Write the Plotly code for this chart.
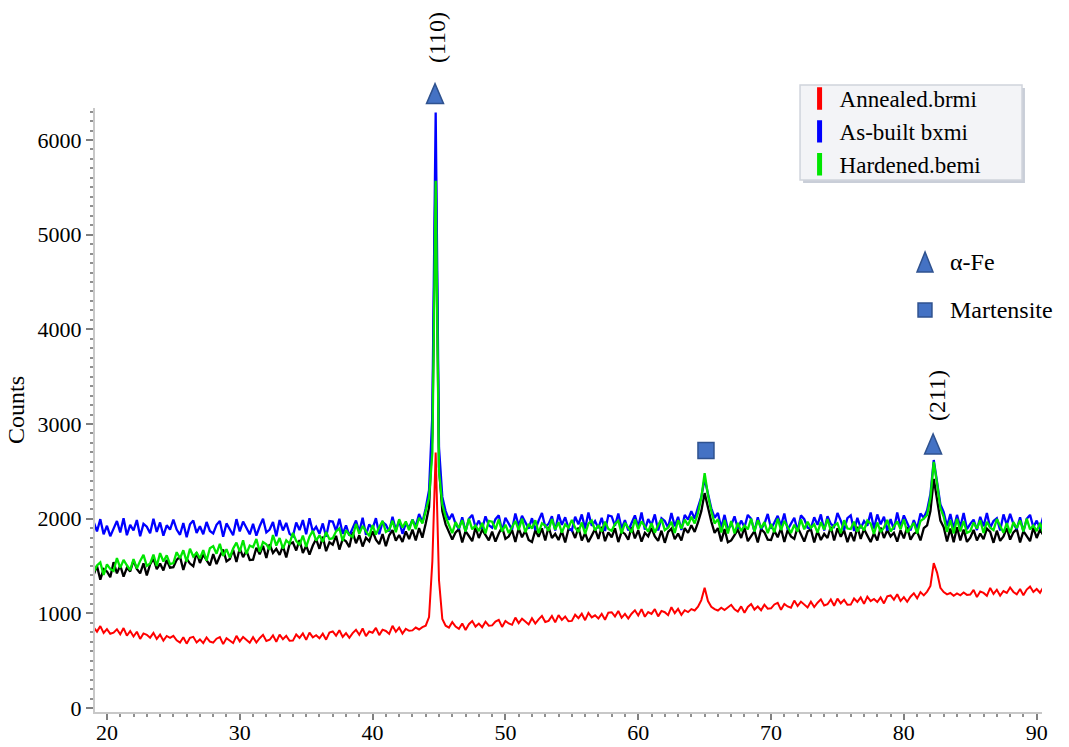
import numpy as np
import plotly.graph_objects as go

# ---- XRD scan parameters (two-theta, degrees) ----
scan_start = 19.0
scan_step = 0.25

# ---- Counts, 12 values (3 degrees) per row ----
annealed = [
    852, 807, 865, 793, 834, 785, 796, 832, 778, 845, 764, 814,          # 19
    756, 806, 730, 788, 774, 743, 793, 730, 775, 712, 761, 741,          # 22
    763, 716, 691, 747, 680, 741, 752, 693, 725, 686, 745, 702,          # 25
    691, 732, 750, 675, 738, 711, 686, 762, 704, 751, 720, 690,          # 28
    748, 692, 737, 773, 708, 721, 767, 700, 776, 726, 762, 711,          # 31
    712, 777, 741, 788, 720, 797, 747, 769, 736, 785, 722, 797,          # 34
    809, 764, 822, 750, 791, 742, 791, 827, 773, 840, 759, 809,          # 37
    796, 846, 770, 828, 814, 783, 868, 805, 850, 787, 836, 816,          # 40
    820, 850, 830, 855, 870, 960, 1550, 2700, 1350, 940, 870, 850,       # 43
    908, 861, 836, 892, 825, 886, 919, 860, 892, 853, 912, 869,          # 46
    873, 914, 932, 857, 920, 893, 879, 955, 897, 944, 913, 883,          # 49
    948, 892, 937, 973, 908, 921, 972, 905, 981, 931, 967, 916,          # 52
    920, 985, 949, 996, 928, 1005, 957, 979, 946, 995, 932, 1007,        # 55
    1012, 967, 1025, 953, 994, 945, 996, 1032, 978, 1045, 964, 1014,     # 58
    994, 1044, 968, 1026, 1012, 981, 1065, 1002, 1047, 984, 1033, 1013,  # 61
    1045, 1030, 1070, 1140, 1270, 1130, 1070, 1045, 1030, 1060, 1035, 1065,  # 64
    1090, 1043, 1018, 1074, 1007, 1068, 1099, 1040, 1072, 1033, 1092, 1049,  # 67
    1053, 1094, 1112, 1037, 1100, 1073, 1059, 1135, 1077, 1124, 1093, 1063,  # 70
    1123, 1067, 1112, 1148, 1083, 1096, 1147, 1080, 1156, 1106, 1142, 1091,  # 73
    1092, 1157, 1121, 1168, 1100, 1177, 1130, 1152, 1119, 1168, 1105, 1180,  # 76
    1189, 1144, 1202, 1130, 1171, 1122, 1176, 1212, 1158, 1225, 1190, 1230,  # 79
    1290, 1530, 1430, 1270, 1225, 1200, 1215, 1185, 1210, 1190, 1220, 1195,  # 82
    1198, 1248, 1172, 1230, 1216, 1185, 1268, 1205, 1250, 1187, 1236, 1216,  # 85
    1273, 1226, 1201, 1257, 1190, 1251, 1284, 1225, 1257, 1218, 1277,        # 88
]

as_built = [
    1965, 1865, 1995, 1835, 1925, 1815, 1895, 1975, 1855, 2005, 1825, 1935,  # 19
    1875, 1985, 1815, 1945, 1915, 1845, 2000, 1860, 1960, 1820, 1930, 1885,  # 22
    1990, 1885, 1830, 1955, 1805, 1940, 1980, 1850, 1920, 1835, 1965, 1870,  # 25
    1845, 1935, 1975, 1810, 1950, 1890, 1825, 1995, 1865, 1970, 1900, 1835,  # 28
    1945, 1820, 1920, 2000, 1855, 1885, 1965, 1815, 1985, 1875, 1955, 1840,  # 31
    1815, 1960, 1880, 1985, 1835, 2005, 1865, 1915, 1840, 1950, 1810, 1975,  # 34
    1970, 1870, 2000, 1840, 1930, 1820, 1900, 1980, 1860, 2010, 1830, 1940,  # 37
    1895, 2005, 1835, 1965, 1935, 1865, 2020, 1880, 1980, 1840, 1950, 1905,  # 40
    1990, 1920, 2050, 1960, 2110, 2300, 3100, 6290, 2750, 2230, 2080, 1990,  # 43
    2050, 1945, 1890, 2015, 1865, 2000, 2040, 1910, 1980, 1895, 2025, 1930,  # 46
    1905, 1995, 2035, 1870, 2010, 1950, 1885, 2055, 1925, 2030, 1960, 1895,  # 49
    2005, 1880, 1980, 2060, 1915, 1945, 2025, 1875, 2045, 1935, 2015, 1900,  # 52
    1875, 2020, 1940, 2045, 1895, 2065, 1925, 1975, 1900, 2010, 1870, 2035,  # 55
    2025, 1925, 2055, 1895, 1985, 1875, 1955, 2035, 1915, 2065, 1885, 1995,  # 58
    1935, 2045, 1875, 2005, 1975, 1905, 2060, 1920, 2020, 1880, 2040, 1990,  # 61
    2080, 2000, 2120, 2230, 2420, 2260, 2110, 2010, 2060, 1905, 2040, 1890,  # 64
    1930, 2025, 1895, 1980, 1910, 2040, 2000, 1865, 2015, 1890, 1945, 2050,  # 67
    1895, 1960, 2030, 1925, 2055, 1885, 1950, 2010, 1870, 2035, 1995, 1905,  # 70
    1900, 2015, 1935, 2045, 1875, 2025, 1945, 1915, 2060, 1980, 1880, 2005,  # 73
    2035, 1870, 2010, 1900, 1975, 1925, 2065, 1895, 2045, 1940, 2020, 1875,  # 76
    1995, 1885, 2065, 1915, 2035, 1955, 1875, 1985, 1895, 2055, 2010, 2090,  # 79
    2260, 2620, 2400, 2150, 2070, 1920, 2050, 1895, 2040, 1910, 2060, 1890,  # 82
    1945, 1990, 1880, 2020, 1920, 2060, 1905, 1975, 2005, 1875, 2045, 1935,  # 85
    2050, 1945, 1890, 2015, 1865, 2000, 2040, 1910, 1980, 1895, 2025,        # 88
]

reference_black = [
    1407, 1501, 1356, 1467, 1442, 1382, 1541, 1422, 1507, 1388, 1481, 1443,  # 19
    1558, 1469, 1422, 1529, 1401, 1516, 1577, 1466, 1526, 1453, 1564, 1483,  # 22
    1488, 1565, 1599, 1458, 1577, 1526, 1498, 1643, 1532, 1621, 1562, 1506,  # 25
    1626, 1520, 1605, 1673, 1549, 1575, 1670, 1542, 1687, 1593, 1662, 1564,  # 28
    1568, 1692, 1624, 1713, 1585, 1730, 1638, 1681, 1617, 1710, 1591, 1732,  # 31
    1749, 1664, 1775, 1638, 1715, 1621, 1716, 1785, 1682, 1810, 1657, 1751,  # 34
    1725, 1819, 1674, 1785, 1760, 1700, 1859, 1740, 1825, 1706, 1799, 1761,  # 37
    1867, 1778, 1731, 1838, 1710, 1825, 1879, 1768, 1828, 1755, 1866, 1785,  # 40
    1885, 1770, 1900, 1800, 1950, 2120, 2900, 5800, 2550, 2080, 1940, 1850,  # 43
    1779, 1856, 1890, 1749, 1868, 1817, 1762, 1907, 1796, 1885, 1826, 1770,  # 46
    1864, 1758, 1843, 1911, 1787, 1813, 1881, 1753, 1898, 1804, 1873, 1775,  # 49
    1753, 1877, 1809, 1898, 1770, 1915, 1796, 1839, 1775, 1868, 1749, 1890,  # 52
    1881, 1796, 1907, 1770, 1847, 1753, 1821, 1890, 1787, 1915, 1762, 1856,  # 55
    1804, 1898, 1753, 1864, 1839, 1779, 1911, 1792, 1877, 1758, 1851, 1813,  # 58
    1902, 1813, 1766, 1873, 1745, 1860, 1894, 1783, 1843, 1770, 1900, 1850,  # 61
    1930, 1860, 1960, 2080, 2270, 2110, 1970, 1850, 1900, 1760, 1890, 1750,  # 64
    1770, 1826, 1885, 1796, 1907, 1762, 1817, 1868, 1749, 1890, 1856, 1779,  # 67
    1775, 1873, 1804, 1898, 1753, 1881, 1813, 1787, 1911, 1843, 1758, 1864,  # 70
    1890, 1749, 1868, 1775, 1839, 1796, 1915, 1770, 1898, 1809, 1877, 1753,  # 73
    1856, 1762, 1915, 1787, 1890, 1821, 1753, 1847, 1770, 1907, 1796, 1881,  # 76
    1813, 1851, 1758, 1877, 1792, 1911, 1779, 1839, 1864, 1770, 1900, 1930,  # 79
    2080, 2420, 2220, 1980, 1910, 1760, 1895, 1750, 1910, 1770, 1885, 1755,  # 82
    1800, 1881, 1770, 1843, 1783, 1894, 1860, 1745, 1873, 1766, 1813, 1902,  # 85
    1779, 1856, 1890, 1749, 1868, 1817, 1762, 1907, 1796, 1885, 1826,        # 88
]

hardened = [
    1434, 1506, 1538, 1406, 1518, 1470, 1448, 1584, 1480, 1564, 1508, 1456,  # 19
    1574, 1474, 1554, 1618, 1502, 1526, 1620, 1500, 1636, 1548, 1612, 1520,  # 22
    1530, 1646, 1582, 1666, 1546, 1682, 1600, 1640, 1580, 1668, 1556, 1688,  # 25
    1710, 1630, 1734, 1606, 1678, 1590, 1684, 1748, 1652, 1772, 1628, 1716,  # 28
    1698, 1786, 1650, 1754, 1730, 1674, 1828, 1716, 1796, 1684, 1772, 1736,  # 31
    1850, 1766, 1722, 1822, 1702, 1810, 1872, 1768, 1824, 1756, 1860, 1784,  # 34
    1794, 1866, 1898, 1766, 1878, 1830, 1808, 1944, 1840, 1924, 1868, 1816,  # 37
    1932, 1832, 1912, 1976, 1860, 1884, 1978, 1858, 1994, 1906, 1970, 1878,  # 40
    1990, 1890, 2010, 1950, 2080, 2220, 2700, 5570, 2500, 2150, 2020, 1940,  # 43
    1848, 1964, 1900, 1984, 1864, 2000, 1888, 1928, 1868, 1956, 1844, 1976,  # 46
    1968, 1888, 1992, 1864, 1936, 1848, 1912, 1976, 1880, 2000, 1856, 1944,  # 49
    1896, 1984, 1848, 1952, 1928, 1872, 1996, 1884, 1964, 1852, 1940, 1904,  # 52
    1988, 1904, 1860, 1960, 1840, 1948, 1980, 1876, 1932, 1864, 1968, 1892,  # 55
    1872, 1944, 1976, 1844, 1956, 1908, 1856, 1992, 1888, 1972, 1916, 1864,  # 58
    1952, 1852, 1932, 1996, 1880, 1904, 1968, 1848, 1984, 1896, 1990, 1930,  # 61
    2020, 1950, 2060, 2220, 2480, 2250, 2080, 1950, 1995, 1855, 1985, 1845,  # 64
    1976, 1844, 1956, 1868, 1928, 1888, 2000, 1864, 1984, 1900, 1964, 1848,  # 67
    1944, 1856, 2000, 1880, 1976, 1912, 1848, 1936, 1864, 1992, 1888, 1968,  # 70
    1904, 1940, 1852, 1964, 1884, 1996, 1872, 1928, 1952, 1848, 1984, 1896,  # 73
    1892, 1968, 1864, 1932, 1876, 1980, 1948, 1840, 1960, 1860, 1904, 1988,  # 76
    1864, 1916, 1972, 1888, 1992, 1856, 1908, 1956, 1844, 1976, 2000, 2040,  # 79
    2220, 2600, 2370, 2110, 2020, 1860, 1985, 1845, 2000, 1865, 1975, 1850,  # 82
    1868, 1960, 1896, 1984, 1848, 1968, 1904, 1880, 1996, 1932, 1852, 1952,  # 85
    1848, 1964, 1900, 1984, 1864, 2000, 1888, 1928, 1868, 1956, 1844,        # 88
]

series_names = ["Annealed.brmi", "As-built bxmi", "Hardened.bemi"]
series_colors = ["#ff0000", "#0000ff", "#00e600"]

# phase markers (peak position, marker height in counts)
alpha_fe_x = [44.7, 82.2]
alpha_fe_y = [6490, 2790]
martensite_x = [65.1]
martensite_y = [2720]
hkl_labels = ["(110)", "(211)"]
hkl_x = [44.8, 82.45]
hkl_y = [7080, 3300]

lens = [len(annealed), len(as_built), len(reference_black), len(hardened)]
assert len(set(lens)) == 1, lens
n = len(annealed)
two_theta = np.round(scan_start + scan_step * np.arange(n), 2)

SERIF = "Liberation Serif"
MARK_FILL = "#4472c4"
MARK_EDGE = "#2f528f"

X_RANGE = [19.1, 90.4]
Y_RANGE = [-42, 6338]
PLOT_W, PLOT_H = 947, 604
deg_per_px = (X_RANGE[1] - X_RANGE[0]) / PLOT_W


def ypaper(c):
    return (c - Y_RANGE[0]) / (Y_RANGE[1] - Y_RANGE[0])


fig = go.Figure()

for y, c, w in [(annealed, series_colors[0], 2.0), (reference_black, "#000000", 2.3),
                (as_built, series_colors[1], 2.3), (hardened, series_colors[2], 2.3)]:
    fig.add_trace(go.Scatter(x=two_theta, y=y, mode="lines",
                             line=dict(color=c, width=w),
                             showlegend=False, hoverinfo="skip"))

for name, c in zip(series_names, series_colors):
    fig.add_trace(go.Scatter(x=[None], y=[None], mode="markers", name=name,
                             marker=dict(symbol="line-ns", size=16,
                                         line=dict(width=5, color=c))))

shapes = []
# legend frame (shadow + box) drawn behind the transparent legend
shapes.append(dict(type="rect", xref="paper", yref="paper", layer="above",
                   x0=0.7477, x1=0.9820, y0=0.8758, y1=1.0331,
                   fillcolor="#c9ced8", line=dict(width=0)))
shapes.append(dict(type="rect", xref="paper", yref="paper", layer="above",
                   x0=0.7445, x1=0.9789, y0=0.8808, y1=1.0381,
                   fillcolor="#f3f4f7", line=dict(color="#d0d4dc", width=1.5)))

# triangles (alpha-Fe) above peaks
hw = 8.5 * deg_per_px
hh = 10 / PLOT_H
for xx, cc in zip(alpha_fe_x, alpha_fe_y):
    yc = ypaper(cc)
    shapes.append(dict(type="path", xref="x", yref="paper",
                       path=f"M {xx-hw} {yc-hh} L {xx+hw} {yc-hh} L {xx} {yc+hh} Z",
                       fillcolor=MARK_FILL, line=dict(color=MARK_EDGE, width=1.5)))
# squares (martensite)
sw = 8 * deg_per_px
sh = 8 / PLOT_H
for xx, cc in zip(martensite_x, martensite_y):
    yc = ypaper(cc)
    shapes.append(dict(type="rect", xref="x", yref="paper",
                       x0=xx - sw, x1=xx + sw, y0=yc - sh, y1=yc + sh,
                       fillcolor=MARK_FILL, line=dict(color=MARK_EDGE, width=1.5)))

# phase key
shapes.append(dict(type="path", xref="paper", yref="paper",
                   path="M 0.8680 0.7285 L 0.8849 0.7285 L 0.8765 0.7616 Z",
                   fillcolor=MARK_FILL, line=dict(color=MARK_EDGE, width=1.5)))
shapes.append(dict(type="rect", xref="paper", yref="paper",
                   x0=0.8691, x1=0.8838, y0=0.6540, y1=0.6772,
                   fillcolor=MARK_FILL, line=dict(color=MARK_EDGE, width=1.5)))

annotations = []
for t, xx, yy in zip(hkl_labels, hkl_x, hkl_y):
    annotations.append(dict(x=xx, y=ypaper(yy), xref="x", yref="paper", text=t,
                            textangle=-90, showarrow=False,
                            xanchor="center", yanchor="middle",
                            font=dict(family=SERIF, size=24, color="black")))

annotations.append(dict(x=0.9007, y=0.745, xref="paper", yref="paper", text="α-Fe",
                        xanchor="left", yanchor="middle", showarrow=False,
                        font=dict(family=SERIF, size=24, color="black")))
annotations.append(dict(x=0.9007, y=0.6656, xref="paper", yref="paper", text="Martensite",
                        xanchor="left", yanchor="middle", showarrow=False,
                        font=dict(family=SERIF, size=24, color="black")))

axis_common = dict(showgrid=False, zeroline=False, showline=True,
                   linecolor="#c8c8c8", linewidth=2, ticks="outside",
                   tickcolor="#808080", tickwidth=1.5,
                   tickfont=dict(family=SERIF, size=22, color="black"))

fig.update_layout(
    width=1069, height=747,
    margin=dict(l=95, r=27, t=108, b=35, autoexpand=False),
    paper_bgcolor="white", plot_bgcolor="white",
    xaxis=dict(range=X_RANGE, tick0=20, dtick=10, ticklen=6, ticklabelstandoff=-6,
               minor=dict(dtick=1, ticks="outside", ticklen=3, tickcolor="#909090"),
               **axis_common),
    yaxis=dict(range=Y_RANGE, tick0=0, dtick=1000, ticklen=7,
               minor=dict(dtick=100, ticks="outside", ticklen=3, tickcolor="#909090"),
               title=dict(text="Counts", font=dict(family=SERIF, size=24, color="black"),
                          standoff=6),
               **axis_common),
    legend=dict(x=0.744, y=1.0513, xanchor="left", yanchor="top",
                bgcolor="rgba(0,0,0,0)", borderwidth=0,
                font=dict(family=SERIF, size=23, color="black"),
                itemwidth=30, tracegroupgap=0),
    annotations=annotations,
    shapes=shapes,
    showlegend=True,
)

fig.write_html("out.html")
